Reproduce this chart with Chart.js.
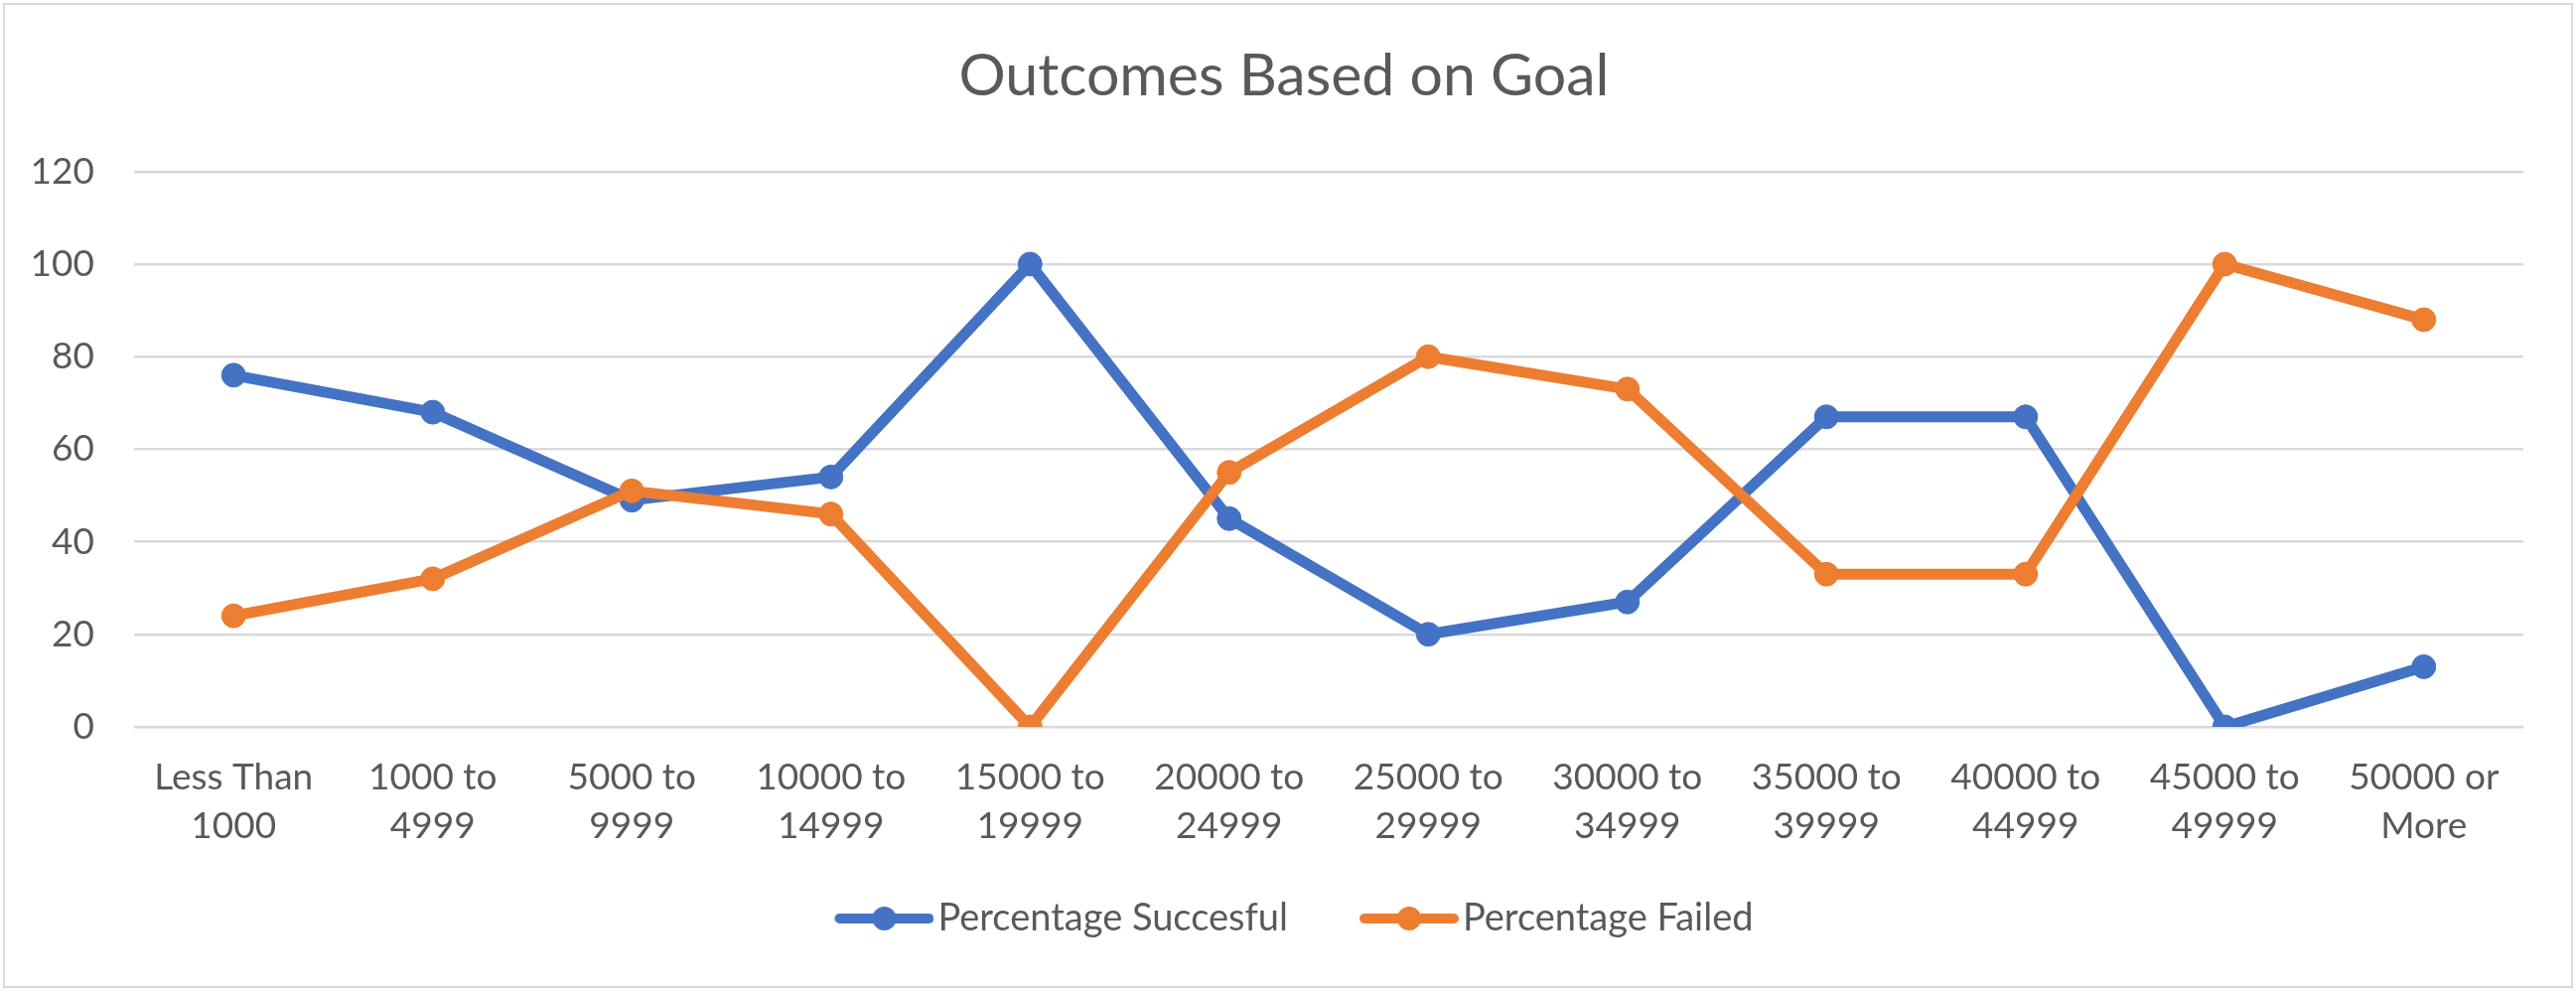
<!DOCTYPE html>
<html>
<head>
<meta charset="utf-8">
<script src="https://cdn.jsdelivr.net/npm/chart.js@4/dist/chart.umd.min.js"></script>
<style>
  html, body { margin: 0; padding: 0; background: #fff; }
  #frame { position: absolute; left: 3px; top: 3px; width: 2584px; height: 988px; border: 2px solid #d9d9d9; }
  #chart { position: absolute; left: 0; top: 0; }
</style>
</head>
<body>
<div id="frame"></div>
<canvas id="chart" width="2594" height="999"></canvas>
<script>
// data
const goalRanges = [
  ['Less Than', '1000'], ['1000 to', '4999'], ['5000 to', '9999'], ['10000 to', '14999'],
  ['15000 to', '19999'], ['20000 to', '24999'], ['25000 to', '29999'], ['30000 to', '34999'],
  ['35000 to', '39999'], ['40000 to', '44999'], ['45000 to', '49999'], ['50000 or', 'More']
];
const pctSuccessful = [76, 68, 49, 54, 100, 45, 20, 27, 67, 67, 0, 13];
const pctFailed = [24, 32, 51, 46, 0, 55, 80, 73, 33, 33, 100, 88];

const BLUE = '#4472C4';
const ORANGE = '#ED7D31';
const TEXT = '#595959';
const FONT = 'Lato';

// legend marker: line with a dot, excel style
function legendIcon(color) {
  const c = document.createElement('canvas');
  c.width = 175; c.height = 30;
  const g = c.getContext('2d');
  g.strokeStyle = color;
  g.lineWidth = 10;
  g.lineCap = 'round';
  g.beginPath(); g.moveTo(80, 15); g.lineTo(170, 15); g.stroke();
  g.fillStyle = color;
  g.beginPath(); g.arc(125, 15, 12, 0, Math.PI * 2); g.fill();
  return c;
}
const icons = [legendIcon(BLUE), legendIcon(ORANGE)];

// title sits centred on the whole chart, not on the padded box
const titleNudge = {
  id: 'titleNudge',
  afterLayout(chart) {
    chart.titleBlock.left += 20;
    chart.titleBlock.right += 20;
  }
};

Chart.defaults.font.family = FONT;
Chart.defaults.color = TEXT;

new Chart(document.getElementById('chart'), {
  type: 'line',
  data: {
    labels: goalRanges,
    datasets: [
      {
        label: 'Percentage Succesful', data: pctSuccessful, order: 1,
        borderColor: BLUE, backgroundColor: BLUE, pointBackgroundColor: BLUE, pointBorderColor: BLUE,
        borderWidth: 11, pointRadius: 12, pointBorderWidth: 1,
        borderCapStyle: 'round', borderJoinStyle: 'round'
      },
      {
        label: 'Percentage Failed', data: pctFailed, order: 0,
        borderColor: ORANGE, backgroundColor: ORANGE, pointBackgroundColor: ORANGE, pointBorderColor: ORANGE,
        borderWidth: 11, pointRadius: 12, pointBorderWidth: 1,
        borderCapStyle: 'round', borderJoinStyle: 'round'
      }
    ]
  },
  options: {
    responsive: false,
    devicePixelRatio: 1,
    animation: false,
    layout: { padding: { left: 5, right: 53, top: 0, bottom: 45 } },
    plugins: {
      title: {
        display: true,
        text: 'Outcomes Based on Goal',
        color: TEXT,
        font: { size: 59, weight: 'normal', lineHeight: 1.2 },
        padding: { top: 42, bottom: 60 }
      },
      legend: {
        position: 'bottom',
        labels: {
          usePointStyle: true,
          pointStyleWidth: 145,
          padding: 12,
          color: TEXT,
          font: { size: 38 },
          sort: (a, b) => a.datasetIndex - b.datasetIndex,
          generateLabels: (chart) => {
            const items = Chart.defaults.plugins.legend.labels.generateLabels(chart);
            items.forEach(it => { it.pointStyle = icons[it.datasetIndex]; });
            return items;
          }
        }
      },
      tooltip: { enabled: false }
    },
    scales: {
      x: {
        offset: true,
        grid: { display: false, drawTicks: false },
        border: { display: false },
        ticks: { autoSkip: false, maxRotation: 0, padding: 27, color: TEXT, font: { size: 37, lineHeight: 1.324 } },
        afterFit: (scale) => { scale.height = 162; }
      },
      y: {
        min: 0, max: 120,
        grid: { color: '#D9D9D9', lineWidth: 2.5, drawTicks: false },
        border: { display: false },
        ticks: { stepSize: 20, padding: 40, color: TEXT, font: { size: 37 } },
        afterFit: (scale) => { scale.width = 130; }
      }
    }
  },
  plugins: [titleNudge]
});
</script>
</body>
</html>
